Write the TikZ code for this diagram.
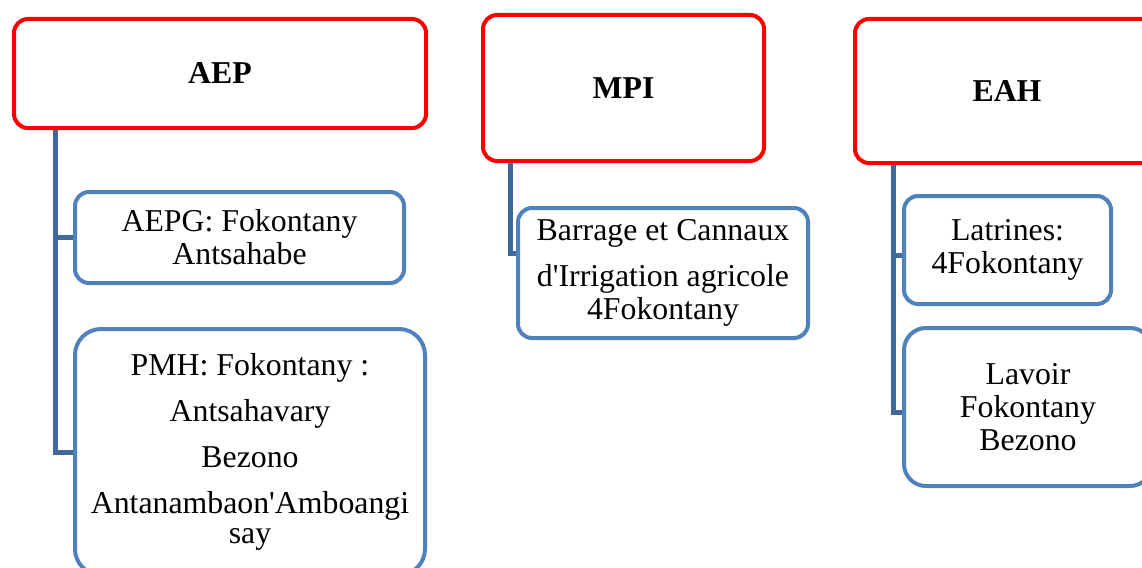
\documentclass[tikz,border=0pt]{standalone}
\usepackage{fontspec}
\setmainfont{Liberation Serif}[Ligatures=TeXOff]
\usepackage{tikz}
\definecolor{headred}{RGB}{255,0,0}
\definecolor{itemblue}{RGB}{79,129,189}
\definecolor{linkblue}{RGB}{65,104,154}

\begin{document}
\begin{tikzpicture}[x=1pt,y=-1pt,
    head/.style={draw=headred,line width=4pt,rounded corners=14pt,align=center,
                 font=\fontsize{31.8pt}{33pt}\selectfont\bfseries,inner sep=0pt},
    item/.style={draw=itemblue,line width=4pt,rounded corners=14pt,align=center,
                 font=\fontsize{31.8pt}{33pt}\selectfont,inner sep=0pt},
    link/.style={draw=linkblue,line width=5pt}]
    \clip (0,0) rectangle (1142,567);
    \path ( 220,  73.5) node [head,minimum width=412,minimum height=109] (aep) {AEP};
    \path ( 623.5, 88) node [head,minimum width=281,minimum height=146] (mpi) {MPI};
    \path (1007,  91) node [head,minimum width=304,minimum height=144] (eah) {EAH};
    \path ( 239.5,237.5) node [item,minimum width=329,minimum height=91] (aepg) {AEPG: Fokontany\\Antsahabe};
    \path ( 250, 452) node [item,minimum width=350,minimum height=246,rounded corners=26pt] (pmh)
        {PMH: Fokontany :\\[13pt]Antsahavary\\[13pt]Bezono\\[13pt]Antanambaon'Amboangi\\[-3pt]say};
    \path ( 663, 273) node [item,minimum width=290,minimum height=130] (barrage)
        {Barrage et Cannaux\\[13pt]d'Irrigation agricole\\4Fokontany};
    \path (1007.5,250) node [item,minimum width=207,minimum height=108] (latrines) {Latrines:\\4Fokontany};
    \path (1028, 407) node [item,minimum width=248,minimum height=158,rounded corners=22pt] (lavoir)
        {Lavoir\\Fokontany\\Bezono};
    \coordinate (aepbus) at (55,0);
    \coordinate (mpibus) at (510,0);
    \coordinate (eahbus) at (893,0);
    \draw [link] (aep.south -| aepbus) |- (aepg.west);
    \draw [link] (aep.south -| aepbus) |- (pmh.west);
    \draw [link] (mpi.south -| mpibus) |- ([yshift=20pt]barrage.west);
    \draw [link] (eah.south -| eahbus) |- ([yshift=-5pt]latrines.west);
    \draw [link] (eah.south -| eahbus) |- ([yshift=-5pt]lavoir.west);
\end{tikzpicture}
\end{document}
